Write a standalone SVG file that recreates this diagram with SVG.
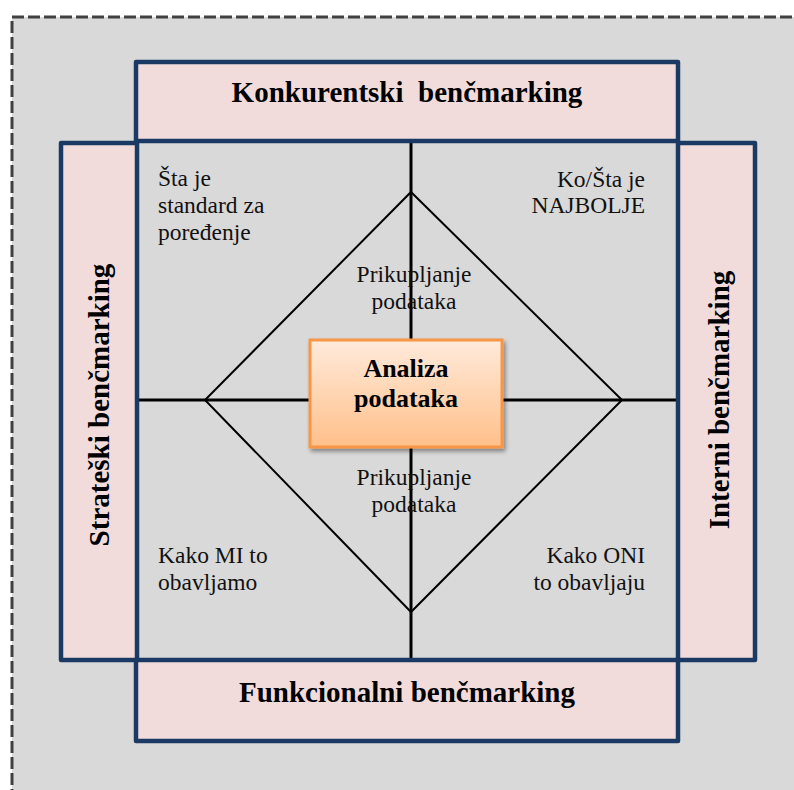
<svg xmlns="http://www.w3.org/2000/svg" width="794" height="790" viewBox="0 0 794 790">
<style>
.box{fill:#F2DCDB;stroke:#1B3A63;stroke-width:4.5;stroke-linejoin:round}
.title{font-family:"Liberation Serif","Times New Roman",serif;font-weight:bold;font-size:29px;fill:#000;text-anchor:middle}
.lbl{font-family:"Liberation Serif","Times New Roman",serif;font-size:23.5px;fill:#111}
.ax{stroke:#000;stroke-width:3;fill:none}
.dia{stroke:#000;stroke-width:2;fill:none}
</style>
<defs>
<linearGradient id="og" x1="0" y1="0" x2="0" y2="1">
<stop offset="0" stop-color="#FFEADB"/>
<stop offset="1" stop-color="#FFC08A"/>
</linearGradient>
<filter id="sh" x="-10%" y="-10%" width="130%" height="130%">
<feGaussianBlur in="SourceAlpha" stdDeviation="2"/>
<feOffset dx="2" dy="3" result="b"/>
<feComponentTransfer><feFuncA type="linear" slope="0.4"/></feComponentTransfer>
<feMerge><feMergeNode/><feMergeNode in="SourceGraphic"/></feMerge>
</filter>
</defs>
<rect x="0" y="0" width="794" height="790" fill="#fff"/>
<rect x="12" y="17" width="800" height="800" fill="#D9D9D9" stroke="#404040" stroke-width="3" stroke-dasharray="12,4"/>
<g id="connectors">
<line class="ax" x1="411" y1="143" x2="411" y2="660"/>
<line class="ax" x1="137" y1="400" x2="678" y2="400"/>
<polygon class="dia" points="411,192 622,400 411,612 205,400"/>
</g>
<g id="konkurentski">
<rect class="box" x="136" y="62" width="542" height="79"/>
<text class="title" x="407" y="102">Konkurentski&#160; benčmarking</text>
</g>
<g id="strateski">
<rect class="box" x="61" y="143" width="76" height="517"/>
<text class="title" transform="translate(109,405) rotate(-90)">Strateški benčmarking</text>
</g>
<g id="interni">
<rect class="box" x="678" y="143" width="77" height="517"/>
<text class="title" transform="translate(729,400) rotate(-90)">Interni benčmarking</text>
</g>
<g id="funkcionalni">
<rect class="box" x="136" y="660" width="542" height="81"/>
<text class="title" x="407" y="702">Funkcionalni benčmarking</text>
</g>
<g id="q1">
<text class="lbl" x="158" y="186">Šta je</text>
<text class="lbl" x="158" y="213">standard za</text>
<text class="lbl" x="158" y="240">poređenje</text>
</g>
<g id="q2">
<text class="lbl" x="645" y="187" text-anchor="end">Ko/Šta je</text>
<text class="lbl" x="645" y="213" text-anchor="end">NAJBOLJE</text>
</g>
<g id="q3">
<text class="lbl" x="158" y="563">Kako MI to</text>
<text class="lbl" x="158" y="590">obavljamo</text>
</g>
<g id="q4">
<text class="lbl" x="645" y="563" text-anchor="end">Kako ONI</text>
<text class="lbl" x="645" y="590" text-anchor="end">to obavljaju</text>
</g>
<g id="prikupljanje-top">
<text class="lbl" x="414" y="282" text-anchor="middle">Prikupljanje</text>
<text class="lbl" x="414" y="309" text-anchor="middle">podataka</text>
</g>
<g id="prikupljanje-bottom">
<text class="lbl" x="414" y="485" text-anchor="middle">Prikupljanje</text>
<text class="lbl" x="414" y="512" text-anchor="middle">podataka</text>
</g>
<g id="analiza">
<rect x="310" y="340" width="192" height="107" fill="url(#og)" stroke="#F79646" stroke-width="3" filter="url(#sh)"/>
<text class="title" style="font-size:26px" x="406" y="377">Analiza</text>
<text class="title" style="font-size:26px" x="406" y="407">podataka</text>
</g>
</svg>
